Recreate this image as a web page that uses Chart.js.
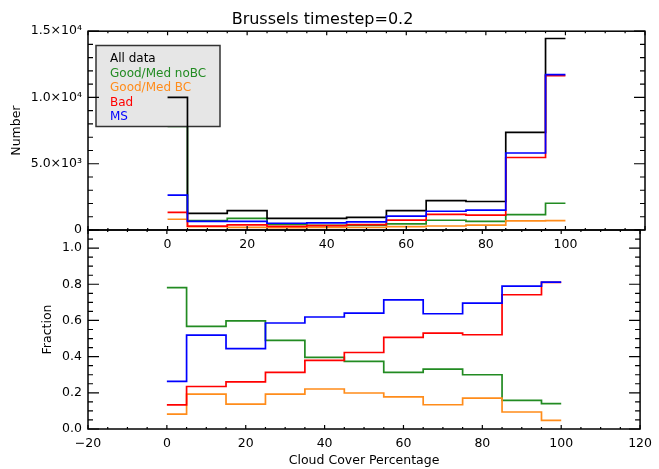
<!DOCTYPE html>
<html><head><meta charset="utf-8">
<script src="https://cdn.jsdelivr.net/npm/chart.js@4"></script>
<style>
html,body{margin:0;padding:0;background:#fff;width:659px;height:469px;overflow:hidden}
canvas{position:absolute;left:0}
#topChart{top:0}
#botChart{top:215px}
</style></head><body>
<canvas id="topChart" width="659" height="260"></canvas>
<canvas id="botChart" width="659" height="254"></canvas>
<script>
// ---- data ----
const cloudCover = [0, 10, 20, 30, 40, 50, 60, 70, 80, 90, 100];

const seriesLabels = ['All data', 'Good/Med noBC', 'Good/Med BC', 'Bad', 'MS'];
const seriesColors = ['#000000', '#228b22', '#ff8c1a', '#ff0000', '#0000ff'];

// Number of observations (top panel)
const countAll    = [10000, 1260, 1460, 870, 880, 950, 1460, 2220, 2150, 7370, 14450];
const countNoBC   = [7820, 715, 875, 425, 345, 355, 455, 735, 645, 1165, 2020];
const countBC     = [810, 245, 200, 170, 195, 190, 260, 300, 370, 695, 710];
const countBad    = [1330, 295, 380, 270, 335, 400, 740, 1175, 1120, 5470, 11650];
const countMS     = [2630, 655, 650, 510, 545, 610, 1045, 1415, 1495, 5810, 11730];

// Fractions (bottom panel)
const fracNoBC = [0.782, 0.567, 0.598, 0.490, 0.396, 0.374, 0.313, 0.331, 0.300, 0.158, 0.140];
const fracBC   = [0.082, 0.193, 0.138, 0.193, 0.221, 0.199, 0.178, 0.134, 0.171, 0.094, 0.048];
const fracBad  = [0.133, 0.235, 0.260, 0.313, 0.379, 0.423, 0.506, 0.530, 0.521, 0.742, 0.810];
const fracMS   = [0.263, 0.519, 0.444, 0.586, 0.619, 0.641, 0.714, 0.637, 0.696, 0.790, 0.812];

// tick labels
const xTickValues = [-20, 0, 20, 40, 60, 80, 100, 120];
const xTickLabelsTop = ['', '0', '20', '40', '60', '80', '100', ''];
const xTickLabelsBottom = ['\u221220', '0', '20', '40', '60', '80', '100', '120'];
const numberTickValues = [0, 5000, 10000, 15000];
const numberTickLabels = ['0', '5.0\u00d710\u00b3', '1.0\u00d710\u2074', '1.5\u00d710\u2074'];
const fracTickValues = [0, 0.2, 0.4, 0.6, 0.8, 1.0];
const fracTickLabels = ['0.0', '0.2', '0.4', '0.6', '0.8', '1.0'];

// ---- chart setup ----
Chart.defaults.font.family = '"DejaVu Sans", sans-serif';
Chart.defaults.font.size = 12.5;
Chart.defaults.color = '#000';

function pts(arr) { return cloudCover.map((c, i) => ({x: c, y: arr[i]})); }
function ds(label, color, arr, order) {
  return {label, data: pts(arr), borderColor: color, backgroundColor: color,
    borderWidth: 1.7, pointRadius: 0, stepped: 'middle', fill: false, order, tension: 0};
}

const idlAxes = {
  id: 'idlAxes',
  afterDatasetsDraw(chart, args, o) {
    const {ctx, chartArea: a} = chart;
    const x = chart.scales.x, y = chart.scales.y;
    ctx.save();
    ctx.strokeStyle = '#000';
    ctx.lineWidth = 1.2;
    ctx.beginPath();
    let n = Math.round((x.max - x.min) / o.xMinor);
    for (let i = 0; i <= n; i++) {
      const v = x.min + i * o.xMinor;
      const px = x.getPixelForValue(v);
      const r = v / o.xMajor;
      const len = Math.abs(r - Math.round(r)) < 1e-6 ? o.xMajorLen : o.xMinorLen;
      ctx.moveTo(px, a.bottom); ctx.lineTo(px, a.bottom - len);
      ctx.moveTo(px, a.top); ctx.lineTo(px, a.top + len);
    }
    n = Math.round((y.max - y.min) / o.yMinor);
    for (let i = 0; i <= n; i++) {
      const v = y.min + i * o.yMinor;
      const py = y.getPixelForValue(v);
      const r = v / o.yMajor;
      const len = Math.abs(r - Math.round(r)) < 1e-6 ? o.yMajorLen : o.yMinorLen;
      ctx.moveTo(a.left, py); ctx.lineTo(a.left + len, py);
      ctx.moveTo(a.right, py); ctx.lineTo(a.right - len, py);
    }
    ctx.stroke();
    ctx.lineWidth = 1.5;
    ctx.strokeRect(a.left, a.top, a.right - a.left, a.bottom - a.top);
    ctx.restore();
  }
};

const boxLegend = {
  id: 'boxLegend',
  beforeDatasetDraw(chart, args, o) {
    if (args.index !== 0) return;
    const {ctx} = chart;
    ctx.save();
    ctx.fillStyle = '#e6e6e6';
    ctx.fillRect(96, 45.5, 124, 81);
    ctx.strokeStyle = '#333';
    ctx.lineWidth = 1.5;
    ctx.strokeRect(96, 45.5, 124, 81);
    ctx.font = '12px "DejaVu Sans"';
    ctx.textBaseline = 'alphabetic';
    ctx.textAlign = 'left';
    chart.data.datasets.forEach((d, i) => {
      ctx.fillStyle = d.borderColor;
      ctx.fillText(d.label, 110, 62 + i * 14.5);
    });
    ctx.restore();
  }
};

function yScale(min, max, vals, labs, title, titlePad) {
  return {
    type: 'linear', min, max,
    afterFit(s) { s.width = 88; },
    afterBuildTicks(s) { s.ticks = vals.map(v => ({value: v})); },
    ticks: {padding: 6, callback: (v) => { const k = vals.findIndex(t => Math.abs(t - v) < 1e-9); return k >= 0 ? labs[k] : ''; }},
    grid: {display: false, drawTicks: false},
    border: {display: false},
    title: {display: true, text: title, padding: {top: titlePad, bottom: 0}}
  };
}
function xScale(labs, h, title) {
  const s = {
    type: 'linear', min: -20, max: 120,
    afterFit(sc) { sc.height = h; },
    afterBuildTicks(sc) { sc.ticks = xTickValues.map(v => ({value: v})); },
    ticks: {padding: 7, autoSkip: false, maxRotation: 0,
      callback: (v) => { const k = xTickValues.indexOf(v); return k >= 0 ? labs[k] : ''; }},
    grid: {display: false, drawTicks: false},
    border: {display: false}
  };
  if (title) s.title = {display: true, text: title, padding: {top: 0, bottom: 1}};
  return s;
}

new Chart(document.getElementById('topChart'), {
  type: 'line',
  data: {datasets: [
    ds(seriesLabels[0], seriesColors[0], countAll, 4),
    ds(seriesLabels[1], seriesColors[1], countNoBC, 5),
    ds(seriesLabels[2], seriesColors[2], countBC, 3),
    ds(seriesLabels[3], seriesColors[3], countBad, 2),
    ds(seriesLabels[4], seriesColors[4], countMS, 1)
  ]},
  options: {
    responsive: false, animation: false, events: [],
    layout: {padding: {left: 0, right: 14, top: 0, bottom: 0}},
    plugins: {
      legend: {display: false}, tooltip: {enabled: false},
      title: {display: true, text: 'Brussels timestep=0.2', font: {size: 16, weight: 'normal'},
        color: '#000', padding: {top: 10, bottom: 2}},
      idlAxes: {xMinor: 5, xMajor: 20, xMajorLen: 4, xMinorLen: 2, yMinor: 1000, yMajor: 5000, yMajorLen: 11, yMinorLen: 5}
    },
    scales: {
      x: xScale(xTickLabelsTop, 30, null),
      y: yScale(0, 15000, numberTickValues, numberTickLabels, 'Number', 9.5)
    }
  },
  plugins: [boxLegend, idlAxes]
});

new Chart(document.getElementById('botChart'), {
  type: 'line',
  data: {datasets: [
    ds(seriesLabels[1], seriesColors[1], fracNoBC, 5),
    ds(seriesLabels[2], seriesColors[2], fracBC, 4),
    ds(seriesLabels[3], seriesColors[3], fracBad, 3),
    ds(seriesLabels[4], seriesColors[4], fracMS, 2)
  ]},
  options: {
    responsive: false, animation: false, events: [],
    layout: {padding: {left: 0, right: 14, top: 15, bottom: 0}},
    plugins: {
      legend: {display: false}, tooltip: {enabled: false}, title: {display: false},
      idlAxes: {xMinor: 5, xMajor: 20, xMajorLen: 4, xMinorLen: 2, yMinor: 0.05, yMajor: 0.2, yMajorLen: 11, yMinorLen: 5}
    },
    scales: {
      x: xScale(xTickLabelsBottom, 40, 'Cloud Cover Percentage'),
      y: yScale(0, 1.1, fracTickValues, fracTickLabels, 'Fraction', 40)
    }
  },
  plugins: [idlAxes]
});
</script>
</body></html>
